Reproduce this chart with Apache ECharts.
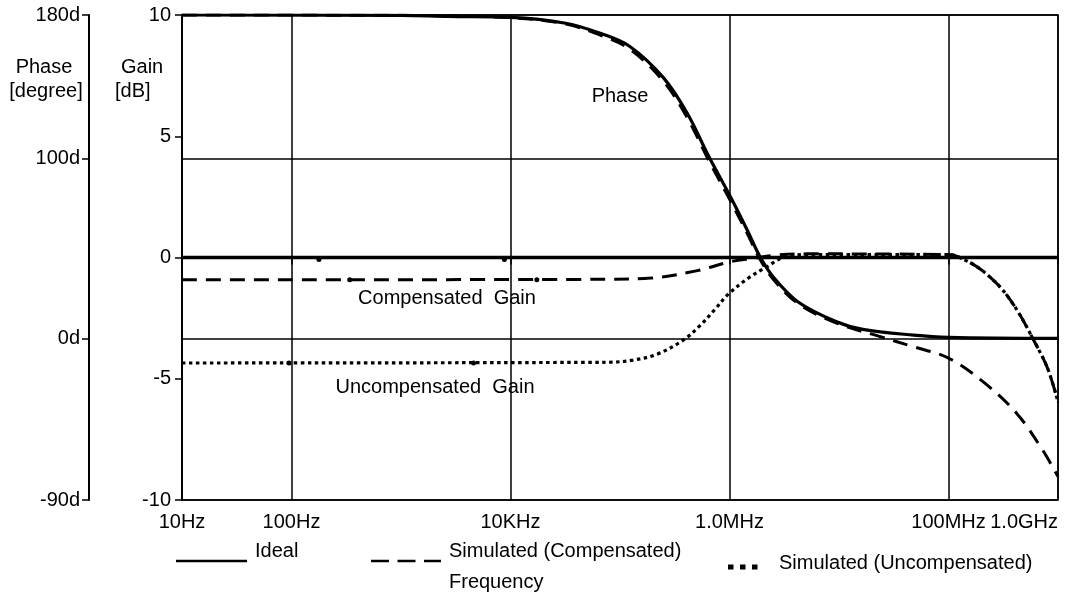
<!DOCTYPE html>
<html>
<head>
<meta charset="utf-8">
<script src="https://cdn.jsdelivr.net/npm/echarts@6/dist/echarts.min.js"></script>
<style>
html,body{margin:0;padding:0;background:#fff;}
#chart{width:1067px;height:598px;}
</style>
</head>
<body>
<div id="chart"></div>
<script>
// ---- tick labels ----
const xTickFreqs = [10, 100, 1e4, 1e6, 1e8, 1e9];
const xTickLabels = ['10Hz', '100Hz', '10KHz', '1.0MHz', '100MHz', '1.0GHz'];
const phaseTicks = [180, 100, 0, -90];
const phaseTickLabels = ['180d', '100d', '0d', '-90d'];

// ---- Ideal ----
const freqIdealGain = [10, 1e9];
const gainIdeal = [0, 0];
const markerFreqIdeal = [178, 8.8e3];
const freqPhaseIdeal = [10, 1e3, 2.7e3, 1e4, 3.2e4, 6.6e4, 1.23e5, 2.5e5, 4.1e5, 6.6e5, 1.02e6, 1.45e6, 1.9e6, 2.5e6, 4.2e6, 9.5e6, 1.65e7, 4.8e7, 1e8, 1e9];
const phaseIdeal = [180, 179.8, 179.2, 178.7, 175.4, 169.8, 162.5, 145, 125.4, 100.2, 78.8, 60.3, 45.4, 34.3, 20.4, 9.2, 5.0, 1.8, 0.55, 0];

// ---- Simulated (Compensated) ----
const freqComp = [10, 6.6e4, 1.9e5, 5.1e5, 1.02e6, 1.65e6, 2.7e6, 5.1e6, 1e8, 1.48e8, 2.05e8, 3e8, 4.2e8, 5.9e8, 8e8, 1e9];
const gainComp = [-0.92, -0.9, -0.85, -0.54, -0.17, -0.03, 0.1, 0.15, 0.12, -0.15, -0.55, -1.25, -2.15, -3.35, -4.55, -5.95];
const markerFreqComp = [340, 1.74e4];
const freqPhaseSim = [10, 1e3, 1e4, 3.2e4, 6.6e4, 1.23e5, 2.5e5, 4.1e5, 6.6e5, 1.02e6, 1.45e6, 1.9e6, 2.5e6, 4.2e6, 9.5e6, 2.3e7, 4.8e7, 1e8, 2.05e8, 4.2e8, 7.2e8, 1e9];
const phaseSim = [180, 179.8, 178.5, 175, 168.8, 161, 143, 123, 98, 76.5, 58.5, 44, 33, 19.5, 8.5, 1.2, -4.7, -11, -24, -41.8, -62, -77];

// ---- Simulated (Uncompensated) ----
const freqUnc = [10, 7.7e4, 1.32e5, 2.2e5, 3.8e5, 5.4e5, 7.5e5, 9.7e5, 1.55e6, 2.2e6, 3.1e6, 5.1e6, 1e8, 1.48e8, 2.05e8, 3e8, 4.2e8, 5.9e8, 8e8, 1e9];
const gainUnc = [-4.35, -4.32, -4.23, -3.98, -3.4, -2.8, -2.1, -1.52, -0.79, -0.38, 0, 0.12, 0.12, -0.15, -0.55, -1.25, -2.15, -3.35, -4.55, -5.95];
const markerFreqUnc = [95, 4.6e3];

function pairs(xs, ys) { return xs.map((x, i) => [x, ys[i]]); }

const FONT = "'Liberation Sans', Arial, Helvetica, sans-serif";
const BLACK = '#000';

function xLabel(v) {
  const lv = Math.log10(v);
  for (let i = 0; i < xTickFreqs.length; i++) {
    if (Math.abs(Math.log10(xTickFreqs[i]) - lv) < 0.01) return xTickLabels[i];
  }
  return '';
}
function phaseLabel(v) {
  for (let i = 0; i < phaseTicks.length; i++) {
    if (Math.abs(phaseTicks[i] - v) < 0.01) return phaseTickLabels[i];
  }
  return '';
}
function markers(freqs, level) {
  return {
    symbol: 'circle', symbolSize: 5, silent: true,
    itemStyle: { color: BLACK },
    label: { show: false },
    data: freqs.map(f => ({ coord: [f, level] }))
  };
}

function txt(x, y, s, align) {
  return {
    type: 'text', x: x, y: y, z: 100,
    style: { text: s, fill: BLACK, font: '20px ' + FONT, textAlign: align || 'left', textVerticalAlign: 'middle' }
  };
}
function seg(x1, x2, y, w, dash) {
  return {
    type: 'line', z: 100,
    shape: { x1: x1, y1: y, x2: x2, y2: y },
    style: { stroke: BLACK, lineWidth: w, lineDash: dash || null, lineCap: 'butt' }
  };
}

const chart = echarts.init(document.getElementById('chart'), null, { renderer: 'canvas' });

const option = {
  animation: false,
  backgroundColor: '#fff',
  textStyle: { fontFamily: FONT },
  grid: {
    left: 182, right: 9, top: 15, bottom: 98,
    show: true, borderColor: BLACK, borderWidth: 1.5, backgroundColor: 'transparent'
  },
  xAxis: {
    type: 'log', logBase: 100, min: 10, max: 1e9,
    axisLine: { show: true, lineStyle: { color: BLACK, width: 2 } },
    axisTick: { show: true, length: 7, lineStyle: { color: BLACK, width: 1.5 } },
    axisLabel: {
      show: true, color: BLACK, fontSize: 20, fontFamily: FONT, margin: 12,
      showMinLabel: true, showMaxLabel: true, alignMaxLabel: 'right',
      formatter: xLabel
    },
    splitLine: { show: true, lineStyle: { color: BLACK, width: 1.5 } }
  },
  yAxis: [
    {
      type: 'value', min: -10, max: 10, interval: 5, position: 'left',
      axisLine: { show: true, lineStyle: { color: BLACK, width: 2 } },
      axisTick: { show: true, length: 7, lineStyle: { color: BLACK, width: 1.5 } },
      axisLabel: { color: BLACK, fontSize: 20, fontFamily: FONT, margin: 11 },
      splitLine: { show: false }
    },
    {
      type: 'value', min: -90, max: 180, position: 'left', offset: 93,
      axisLine: { show: true, lineStyle: { color: BLACK, width: 2 } },
      axisTick: { show: true, length: 7, customValues: phaseTicks, lineStyle: { color: BLACK, width: 1.5 } },
      axisLabel: { color: BLACK, fontSize: 20, fontFamily: FONT, margin: 9, customValues: phaseTicks, formatter: phaseLabel },
      splitLine: { show: true, lineStyle: { color: BLACK, width: 1.5 } }
    }
  ],
  series: [
    {
      name: 'Ideal Gain', type: 'line', yAxisIndex: 0, symbol: 'none', z: 5,
      data: pairs(freqIdealGain, gainIdeal),
      lineStyle: { color: BLACK, width: 3.5, type: 'solid' },
      markPoint: markers(markerFreqIdeal, gainIdeal[0] - 0.08)
    },
    {
      name: 'Ideal Phase', type: 'line', yAxisIndex: 1, symbol: 'none', smooth: 0.35, z: 6,
      data: pairs(freqPhaseIdeal, phaseIdeal),
      lineStyle: { color: BLACK, width: 3.2, type: 'solid' }
    },
    {
      name: 'Compensated Gain', type: 'line', yAxisIndex: 0, symbol: 'none', smooth: 0.35, z: 7,
      data: pairs(freqComp, gainComp),
      lineStyle: { color: BLACK, width: 3, type: [15, 9], cap: 'butt' },
      markPoint: markers(markerFreqComp, gainComp[0])
    },
    {
      name: 'Compensated Phase', type: 'line', yAxisIndex: 1, symbol: 'none', smooth: 0.35, z: 7,
      data: pairs(freqPhaseSim, phaseSim),
      lineStyle: { color: BLACK, width: 3, type: [15, 9], cap: 'butt' }
    },
    {
      name: 'Uncompensated Gain', type: 'line', yAxisIndex: 0, symbol: 'none', smooth: 0.35, z: 8,
      data: pairs(freqUnc, gainUnc),
      lineStyle: { color: BLACK, width: 3.2, type: [3.5, 3.5], cap: 'butt' },
      markPoint: markers(markerFreqUnc, gainUnc[0])
    }
  ],
  graphic: [
    txt(44, 67, 'Phase', 'center'),
    txt(46, 91, '[degree]', 'center'),
    txt(121, 67, 'Gain', 'left'),
    txt(115, 91, '[dB]', 'left'),
    txt(620, 96, 'Phase', 'center'),
    txt(447, 298, 'Compensated  Gain', 'center'),
    txt(435, 387, 'Uncompensated  Gain', 'center'),
    seg(176, 247, 561, 2.5),
    txt(255, 551, 'Ideal', 'left'),
    seg(371, 441, 561, 2.5, [18, 8.5]),
    txt(449, 551, 'Simulated (Compensated)', 'left'),
    seg(728, 758, 567, 5, [5.5, 6.5]),
    txt(779, 563, 'Simulated (Uncompensated)', 'left'),
    txt(449, 582, 'Frequency', 'left')
  ]
};
chart.setOption(option);
</script>
</body>
</html>
